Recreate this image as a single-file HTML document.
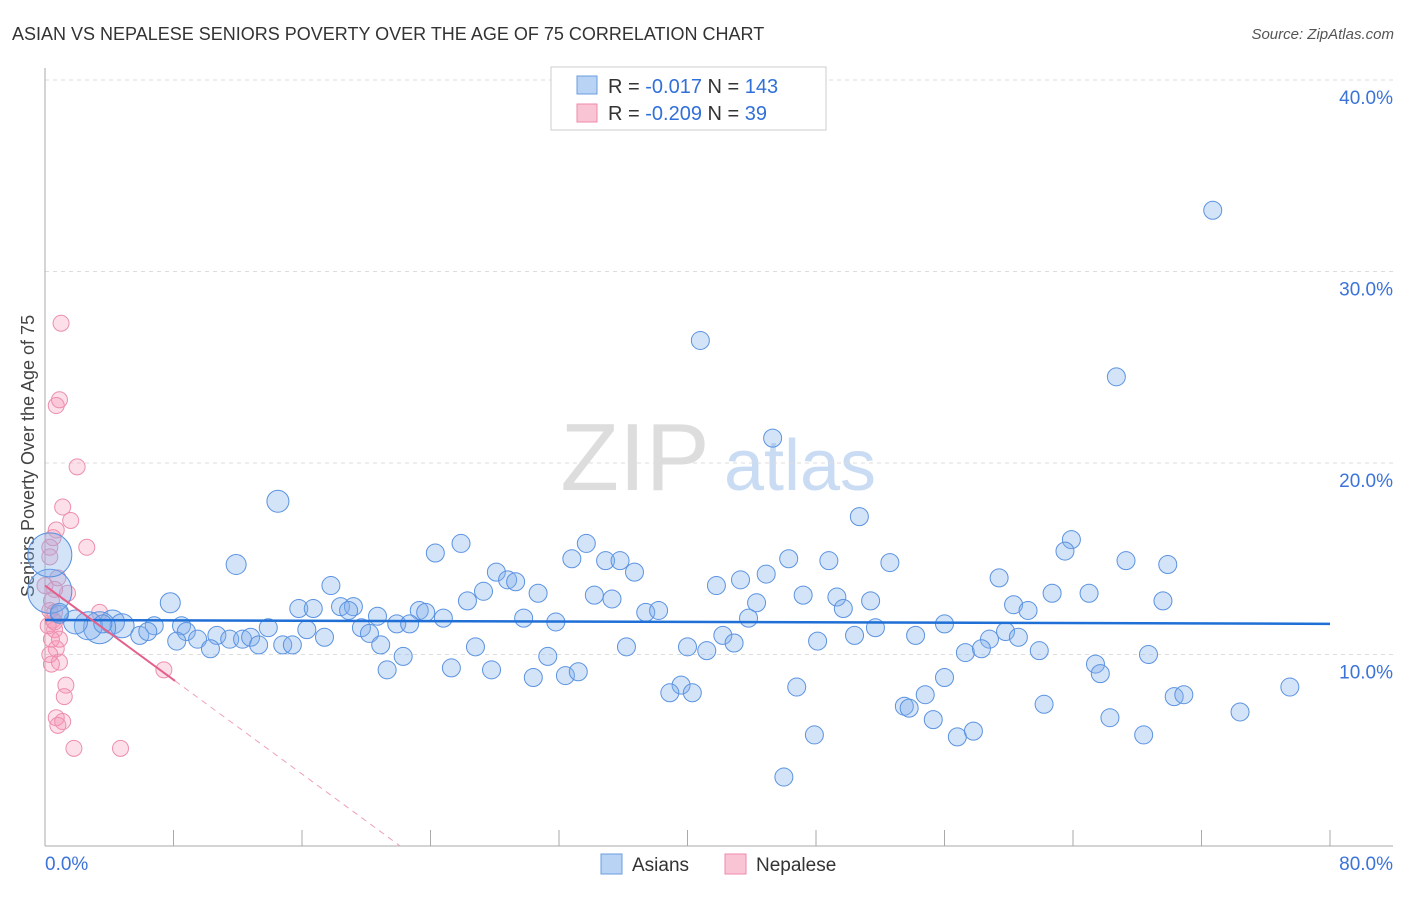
<!DOCTYPE html>
<html><head><meta charset="utf-8"><style>
body{margin:0;background:#fff;font-family:"Liberation Sans",sans-serif}
svg text{font-family:"Liberation Sans",sans-serif}
</style></head><body>
<svg id="c" width="1406" height="892">
<text x="12" y="40" font-size="18" fill="#333">ASIAN VS NEPALESE SENIORS POVERTY OVER THE AGE OF 75 CORRELATION CHART</text>
<text x="1394" y="39" font-size="15" fill="#555" text-anchor="end" font-style="italic">Source: ZipAtlas.com</text>
<text x="0" y="0" transform="translate(34,456) rotate(-90)" font-size="18" fill="#444" text-anchor="middle">Seniors Poverty Over the Age of 75</text>
<g><text x="635" y="490" font-size="96" font-family="Liberation Serif" fill="#ddd" text-anchor="middle">ZIP</text><text x="800" y="490" font-size="72" fill="#c9dcf3" text-anchor="middle">atlas</text></g>
<g id="grid"></g><g id="axes"></g><g id="pts"></g><g id="trend"></g>
<g>
<rect x="551" y="67" width="275" height="63" fill="#fff" stroke="#ccc"/>
<rect x="577" y="76" width="20" height="18" fill="#b9d3f5" stroke="#6a9ee0"/>
<rect x="577" y="104" width="20" height="18" fill="#f9c4d4" stroke="#ee8aa8"/>
<text x="608" y="93" font-size="20" fill="#333">R = <tspan fill="#3070d8">-0.017</tspan>   N = <tspan fill="#3070d8">143</tspan></text>
<text x="608" y="120" font-size="20" fill="#333">R = <tspan fill="#3070d8">-0.209</tspan>   N = <tspan fill="#3070d8">  39</tspan></text>
</g>
<g>
<rect x="601" y="854" width="21" height="20" fill="#b9d3f5" stroke="#6a9ee0"/>
<text x="632" y="871" font-size="19" fill="#333">Asians</text>
<rect x="725" y="854" width="21" height="20" fill="#f9c4d4" stroke="#ee8aa8"/>
<text x="756" y="871" font-size="19" fill="#333">Nepalese</text>
</g>
</svg>
<script>
const yTicks=[10,20,30,40];
const yTickLabels=["10.0%","20.0%","30.0%","40.0%"];
const xTickLabels=["0.0%","80.0%"];
const asianX=[72.7,40.8,66.7,45.3,14.5,50.7,11.9,63.9,63.5,24.3,25.9,33.7,32.8,34.9,35.8,46.3,48.8,52.6,67.3,69.9,36.7,28.1,28.8,29.3,44.9,43.3,41.8,59.4,17.8,27.3,30.7,34.2,35.3,26.3,47.2,49.3,51.4,62.7,65.0,69.6,60.3,61.2,44.3,7.8,15.8,16.7,18.4,19.2,18.9,23.3,23.7,24.8,29.8,31.8,37.4,38.2,43.8,49.7,56.0,51.7,59.8,20.7,19.7,21.9,22.7,8.5,6.8,4.2,4.8,3.4,2.7,1.9,0.9,0.3,0.3,0.9,3.6,13.9,16.3,17.4,20.2,8.8,10.7,11.5,12.3,12.8,8.2,9.5,10.3,13.3,14.8,15.4,5.9,6.4,42.2,42.9,48.1,50.4,54.2,58.8,60.6,20.9,26.8,36.2,40.0,41.2,57.3,58.3,61.9,68.7,22.3,31.3,21.3,25.3,27.8,30.4,32.4,33.2,65.4,65.7,56.0,54.8,39.6,38.9,40.3,46.8,53.5,53.8,62.2,70.3,70.9,74.4,77.5,55.3,66.3,56.8,57.8,68.4,47.9,46.0];
const asianY=[33.2,26.4,24.5,21.3,18.0,17.2,14.7,16.0,15.4,15.3,15.8,15.8,15.0,14.9,14.9,15.0,14.9,14.8,14.9,14.7,14.3,14.3,13.9,13.8,14.2,13.9,13.6,14.0,13.6,13.3,13.2,13.1,12.9,12.8,13.1,13.0,12.8,13.2,13.2,12.8,12.6,12.3,12.7,12.7,12.4,12.4,12.5,12.5,12.3,12.3,12.2,11.9,11.9,11.7,12.2,12.3,11.9,12.4,11.6,11.4,11.2,12.0,11.4,11.6,11.6,11.5,11.5,11.7,11.5,11.4,11.5,11.7,12.1,13.3,15.2,12.2,11.6,11.4,11.3,10.9,11.1,11.2,11.0,10.8,10.8,10.9,10.7,10.8,10.3,10.5,10.5,10.5,11.0,11.2,11.0,10.6,10.7,11.0,11.0,10.8,10.9,10.5,10.4,10.4,10.4,10.2,10.1,10.3,10.2,10.0,9.9,9.9,9.2,9.3,9.2,8.8,8.9,9.1,9.5,9.0,8.8,7.9,8.4,8.0,8.0,8.3,7.3,7.2,7.4,7.8,7.9,7.0,8.3,6.6,6.7,5.7,6.0,5.8,5.8,3.6];
const asianBig={4:11,6:10,43:10,73:22,74:22,69:16,70:14,67:12,71:12,68:12};
const nepX=[1.0,0.9,0.7,2.0,1.1,1.6,0.7,2.6,0.5,0.3,0.3,0.6,1.4,3.4,0.4,0.5,0.6,0.4,0.7,0.3,0.9,0.4,1.3,1.2,0.7,1.1,0.8,1.8,4.7,7.4,0.8,0.3,0.6,0.2,0.9,0.6,0.0];
const nepY=[27.3,23.3,23.0,19.8,17.7,17.0,16.5,15.6,16.1,15.6,15.1,13.4,13.2,12.2,12.8,11.8,11.3,10.8,10.3,10.0,9.6,9.5,8.4,7.8,6.7,6.5,6.3,5.1,5.1,9.2,14.0,12.3,12.2,11.5,10.8,11.7,13.6];
const asianTrend=[11.8,11.6];
const nepTrend=[13.6,-0.615];
const X=v=>45+v*16.0625, Y=v=>846-v*19.15;
const NS="http://www.w3.org/2000/svg";
function mk(p,t,a){const e=document.createElementNS(NS,t);for(const k in a)e.setAttribute(k,a[k]);document.getElementById(p).appendChild(e);return e;}
yTicks.forEach((t,i)=>{
 const l=mk('grid','line',{x1:45,x2:1393,y1:Y(t),y2:Y(t),stroke:'#ddd','stroke-dasharray':'4,4'});
 
 
 const tx=mk('grid','text',{x:1393,y:Y(t)+24,'font-size':19,fill:'#3b73d9','text-anchor':'end'});
 tx.textContent=yTickLabels[i];
 
 
});
let a=mk('axes','line',{x1:45,x2:45,y1:68,y2:846,stroke:'#aaa'});


a=mk('axes','line',{x1:45,x2:1393,y1:846,y2:846,stroke:'#aaa'});


for(let i=1;i<=10;i++){const t=mk('axes','line',{x1:X(i*8),x2:X(i*8),y1:830,y2:846,stroke:'#aaa'});
 
 }
[[0,'start',45],[80,'end',1393]].forEach((d,i)=>{const t=mk('axes','text',{x:d[2],y:870,'font-size':19,fill:'#3b73d9','text-anchor':d[1]});t.textContent=xTickLabels[i];
 
 });
nepX.forEach((x,i)=>{const c=mk('pts','circle',{cx:X(x),cy:Y(nepY[i]),r:8,fill:'rgba(245,150,180,0.3)',stroke:'#ec8fac','stroke-width':1});
 
 });
asianX.forEach((x,i)=>{const c=mk('pts','circle',{cx:X(x),cy:Y(asianY[i]),r:asianBig[i]||9,fill:'rgba(130,175,235,0.35)',stroke:'#5b93e0','stroke-width':1});
 
 });
let t=mk('trend','line',{x1:X(0),x2:X(80),y1:Y(asianTrend[0]),y2:Y(asianTrend[1]),stroke:'#1f6fd6','stroke-width':2.5});


const xe=-nepTrend[0]/nepTrend[1];
t=mk('trend','line',{x1:X(0),x2:X(8.1),y1:Y(nepTrend[0]),y2:Y(nepTrend[0]+nepTrend[1]*8.1),stroke:'#e4608a','stroke-width':2});


t=mk('trend','line',{x1:X(8.1),x2:X(xe),y1:Y(nepTrend[0]+nepTrend[1]*8.1),y2:Y(0),stroke:'#eea0b8','stroke-width':1,'stroke-dasharray':'6,5'});


</script>
</body></html>
